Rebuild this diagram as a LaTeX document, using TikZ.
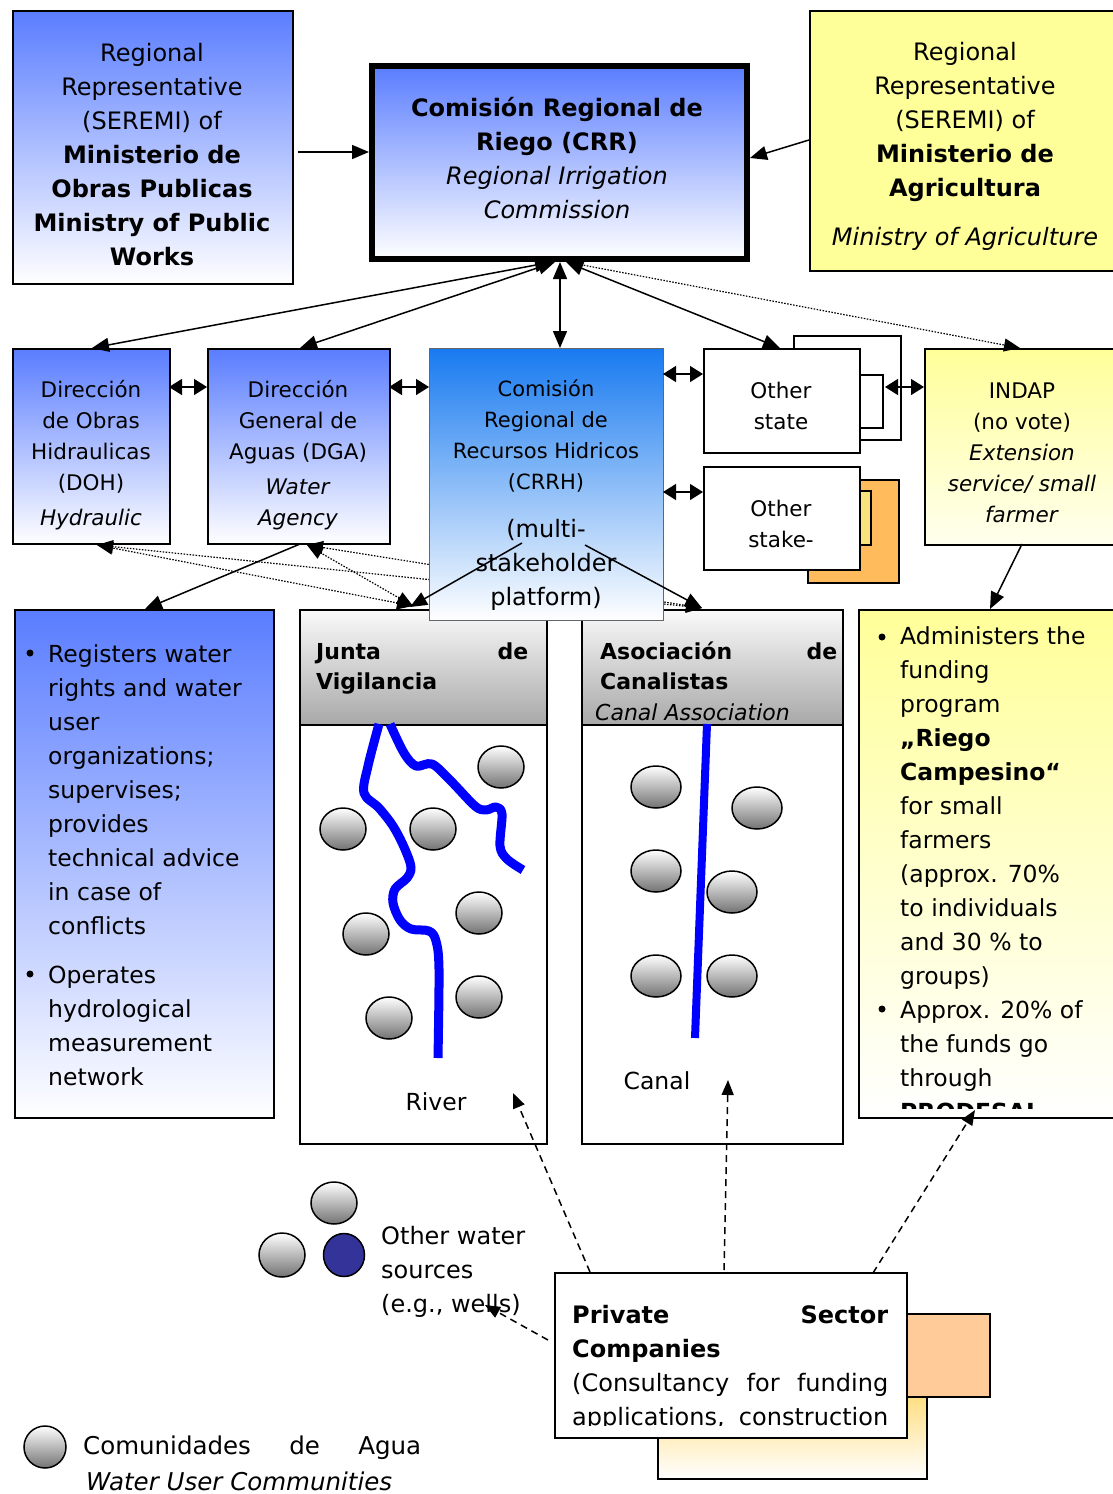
\documentclass[tikz,border=0pt]{standalone}
\usepackage{fontspec}
\setmainfont{DejaVu Sans}
\usetikzlibrary{arrows.meta,shapes.geometric}
\definecolor{bluetop}{RGB}{90,125,255}
\definecolor{crrhtop}{RGB}{24,122,240}
\definecolor{yel}{RGB}{255,255,153}
\definecolor{yelbot}{RGB}{255,255,238}
\definecolor{headtop}{RGB}{250,250,250}
\definecolor{headbot}{RGB}{168,168,168}
\definecolor{orng}{RGB}{255,187,92}
\definecolor{ylwsmall}{RGB}{248,228,122}
\definecolor{peach}{RGB}{255,204,153}
\definecolor{gradtop}{RGB}{255,222,130}
\definecolor{navyc}{RGB}{51,51,153}
\definecolor{riverc}{RGB}{0,0,255}
\begin{document}
\begin{tikzpicture}[x=1pt,y=-1pt,
  bx/.style={rectangle, draw=black, line width=1.6pt, inner sep=0pt, anchor=north west},
  tx/.style={inner sep=0pt, align=center, font=\fontsize{24}{34}\selectfont},
  sx/.style={inner sep=0pt, align=center, font=\fontsize{21.5}{31}\selectfont},
  lx/.style={inner sep=0pt, align=left, font=\fontsize{23.5}{34}\selectfont},
  hx/.style={inner sep=0pt, align=left, font=\fontsize{22}{30}\selectfont},
  bul/.style={circle, fill=black, inner sep=0pt, minimum size=7pt},
  comm/.style={ellipse, draw=black, line width=1.5pt, top color=white, bottom color=black!55, inner sep=0pt, minimum width=46pt, minimum height=42pt},
  arr/.style={-{Triangle[length=17pt,width=14pt]}, line width=1.5pt},
  darr/.style={{Triangle[length=17pt,width=14pt]}-{Triangle[length=17pt,width=14pt]}, line width=1.5pt},
  sdarr/.style={{Triangle[length=13pt,width=16pt]}-{Triangle[length=13pt,width=16pt]}, line width=1.5pt},
  dotarr/.style={{Triangle[length=16pt,width=13pt]}-{Triangle[length=16pt,width=13pt]}, line width=1.2pt, dash pattern=on 1.5pt off 1.5pt},
  dotone/.style={-{Triangle[length=16pt,width=13pt]}, line width=1.2pt, dash pattern=on 1.5pt off 1.5pt},
  dasharr/.style={-{Triangle[length=15pt,width=12pt]}, line width=1.5pt, dash pattern=on 7pt off 5pt},
  rivr/.style={draw=riverc, line width=9pt, line join=round}
]
\useasboundingbox (0,0) rectangle (1112,1494);

% ---------- top row ----------
\node[bx, top color=bluetop, bottom color=white, minimum width=280pt, minimum height=273pt] (mop) at (12,10) {};
\node[tx] (mopt) at (152,155) {Regional\\Representative\\(SEREMI) of\\\textbf{Ministerio de}\\\textbf{Obras Publicas}\\\textbf{Ministry of Public}\\\textbf{Works}};

\node[bx, line width=6pt, top color=bluetop, bottom color=white, minimum width=375pt, minimum height=193pt] (crr) at (369,63) {};
\node[tx] (crrt) at (557,158) {\textbf{Comisión Regional de}\\\textbf{Riego (CRR)}\\\textit{Regional Irrigation}\\\textit{Commission}};

\node[bx, fill=yel, minimum width=310pt, minimum height=260pt] (minag) at (809,10) {};
\node[tx] (minagt) at (965,122) {Regional\\Representative\\(SEREMI) of\\\textbf{Ministerio de}\\\textbf{Agricultura}};
\node[tx] (minagi) at (965,239) {\textit{Ministry of Agriculture}};

% ---------- second row ----------
\node[bx, top color=bluetop, bottom color=white, minimum width=157pt, minimum height=195pt] (doh) at (12,348) {};
\node[sx] (doht) at (91,455) {Dirección\\de Obras\\Hidraulicas\\(DOH)\\[4pt]\textit{Hydraulic}};

\node[bx, top color=bluetop, bottom color=white, minimum width=182pt, minimum height=195pt] (dga) at (207,348) {};
\node[sx] (dgat) at (298,455) {Dirección\\General de\\Aguas (DGA)\\[4pt]\textit{Water}\\\textit{Agency}};

\node[bx, fill=white, minimum width=107pt, minimum height=104pt] (osback) at (793,335) {};
\node[bx, fill=white, minimum width=23pt, minimum height=53pt] (ossmall) at (859,374) {};
\node[bx, fill=white, minimum width=156pt, minimum height=104pt] (ostate) at (703,348) {};
\node[sx] (ostatet) at (781,406) {Other\\state};

\node[bx, fill=orng, minimum width=91pt, minimum height=103pt] (oskorange) at (807,479) {};
\node[bx, fill=ylwsmall, minimum width=11pt, minimum height=54pt] (oskyel) at (859,490) {};
\node[bx, fill=white, minimum width=156pt, minimum height=103pt] (ostake) at (703,466) {};
\node[sx] (ostaket) at (781,524) {Other\\stake-};

\node[bx, top color=yel, bottom color=yelbot, minimum width=192pt, minimum height=196pt] (indap) at (924,348) {};
\node[sx] (indapt) at (1022,453) {INDAP\\(no vote)\\\textit{Extension}\\\textit{service/ small}\\\textit{farmer}};

% ---------- third row ----------
\node[bx, top color=bluetop, bottom color=white, minimum width=259pt, minimum height=508pt] (leftb) at (14,609) {};
\node[bul] (lbb1) at (30,653) {};
\node[lx, anchor=west] (lb1) at (48,790) {Registers water\\rights and water\\user\\organizations;\\supervises;\\provides\\technical advice\\in case of\\conflicts};
\node[bul] (lbb2) at (30,974) {};
\node[lx, anchor=west] (lb2) at (48,1026) {Operates\\hydrological\\measurement\\network};

\node[bx, fill=white, minimum width=247pt, minimum height=534pt] (junta) at (299,609) {};
\node[bx, top color=headtop, bottom color=headbot, minimum width=247pt, minimum height=115pt] (juntah) at (299,609) {};
\node[hx, anchor=west, text width=212pt] (juntat) at (316,669) {\textbf{Junta\hfill de}\\\textbf{Vigilancia}};

\node[bx, fill=white, minimum width=261pt, minimum height=534pt] (canal) at (581,609) {};
\node[bx, top color=headtop, bottom color=headbot, minimum width=261pt, minimum height=115pt] (canalh) at (581,609) {};
\node[hx, anchor=west, text width=237pt] (canalt) at (600,666) {\textbf{Asociación\hfill de}\\\textbf{Canalistas}};
\node[hx, anchor=west] (canali) at (595,712) {\textit{Canal Association}};

\node[bx, top color=yel, bottom color=white, minimum width=258pt, minimum height=508pt] (fund) at (858,609) {};
\begin{scope}
\clip (858,609) rectangle (1112,1108);
\node[bul] (fbb1) at (882,637) {};
\node[lx, anchor=west] (fb1) at (900,808) {Administers the\\funding\\program\\\textbf{„Riego}\\\textbf{Campesino“}\\for small\\farmers\\(approx. 70\%\\to individuals\\and 30 \% to\\groups)};
\node[bul] (fbb2) at (882,1009) {};
\node[lx, anchor=west] (fb2) at (900,1061) {Approx. 20\% of\\the funds go\\through\\\textbf{PRODESAL}};
\end{scope}

% rivers and canal
\draw[rivr] plot[smooth, tension=0.55] coordinates {(379,724) (368,766) (364,793) (379,808) (393,826) (404,847) (411,867) (407,878) (395,889) (393,903) (400,920) (411,929) (429,931) (436,941) (439,969) (438,1058)};
\draw[rivr] plot[smooth, tension=0.55] coordinates {(390,724) (404,753) (416,766) (432,764) (450,780) (475,806) (486,810) (496,807) (502,814) (500,846) (507,859) (523,870)};
\draw[rivr, line width=8pt] (707,724) -- (695,1038);

\node[comm] (j1) at (501,767) {};
\node[comm] (j2) at (343,829) {};
\node[comm] (j3) at (433,829) {};
\node[comm] (j4) at (479,913) {};
\node[comm] (j5) at (366,934) {};
\node[comm] (j6) at (479,997) {};
\node[comm] (j7) at (389,1018) {};
\node[comm, minimum width=50pt] (c1) at (656,787) {};
\node[comm, minimum width=50pt] (c2) at (757,808) {};
\node[comm, minimum width=50pt] (c3) at (656,871) {};
\node[comm, minimum width=50pt] (c4) at (732,892) {};
\node[comm, minimum width=50pt] (c5) at (656,976) {};
\node[comm, minimum width=50pt] (c6) at (732,976) {};

\node[lx] (rivert) at (436,1102) {River};
\node[lx] (canallbl) at (657,1081) {Canal};

% dotted lines passing behind CRRH
\coordinate (jtop) at (413,606);
\coordinate (ctop) at (702,608);
\coordinate (dohb) at (97,545);
\coordinate (dgab) at (307,545);
\draw[dotarr] (jtop) -- (dohb);
\draw[dotarr] (jtop) -- (dgab);
\draw[dotarr] (ctop) -- (dohb);
\draw[dotarr] (ctop) -- (dgab);

% CRRH on top
\node[bx, draw=black!60, line width=0.9pt, top color=crrhtop, bottom color=white, minimum width=234pt, minimum height=272pt] (crrh) at (429,348) {};
\node[sx, font=\fontsize{21}{31}\selectfont] (crrht) at (546,436) {Comisión\\Regional de\\Recursos Hidricos\\(CRRH)};
\node[tx] (crrhb) at (546,565) {(multi-\\stakeholder\\platform)};

\coordinate (ml) at (522,543);
\coordinate (mr) at (585,545);
\draw[arr] (ml) -- (410,607);
\draw[arr] (mr) -- (ctop);

% ---------- connectors top ----------
\coordinate (mopa) at (298,152);
\draw[arr] (mopa) -- (mopa -| crr.west);
\coordinate (minaga) at (809,140);
\draw[arr] (minaga) -- (750,158);

\coordinate (cb1) at (552,262);
\coordinate (cb2) at (555,262);
\coordinate (cb3) at (560,262);
\coordinate (cb4) at (566,262);
\coordinate (cb5) at (572,263);
\draw[darr] (cb1) -- (doh.north -| 92,0);
\draw[darr] (cb2) -- (dga.north -| 300,0);
\draw[darr] (cb3) -- (cb3 |- crrh.north);
\draw[darr] (cb4) -- (ostate.north -| 780,0);
\draw[dotone] (cb5) -- (indap.north -| 1020,0);

\draw[sdarr] (169,387) -- (207,387);
\draw[sdarr] (389,387) -- (429,387);
\draw[sdarr] (663,374) -- (703,374);
\draw[sdarr] (663,492) -- (703,492);
\draw[sdarr] (885,387) -- (924,387);

\draw[arr] (1022,544) -- (990,609);
\draw[arr] (300,544) -- (145,609);

% ---------- other water sources ----------
\node[comm] (w1) at (334,1203) {};
\node[comm, minimum height=44pt] (w2) at (282,1255) {};
\node[ellipse, draw=black, line width=1.5pt, fill=navyc, inner sep=0pt, minimum width=41pt, minimum height=43pt] (w3) at (344,1255) {};
\node[lx, anchor=west, font=\fontsize{24}{34}\selectfont] (wt) at (381,1272) {Other water\\sources\\(e.g., wells)};

% ---------- private sector ----------
\node[bx, top color=gradtop, bottom color=white, minimum width=269pt, minimum height=83pt] (pgrad) at (657,1395) {};
\node[bx, fill=peach, minimum width=109pt, minimum height=83pt] (ppeach) at (880,1313) {};
\node[bx, fill=white, minimum width=352pt, minimum height=165pt] (priv) at (554,1272) {};
\begin{scope}
\clip (554,1272) rectangle (906,1425);
\node[lx, anchor=west, font=\fontsize{24}{34}\selectfont] (privt) at (572,1368) {\makebox[316pt]{\textbf{Private}\hfill\textbf{Sector}}\\\textbf{Companies}\\\makebox[316pt][s]{(Consultancy for funding}\\\makebox[316pt][s]{applications, construction}};
\end{scope}

\draw[dasharr] (590,1272) -- (513,1093);
\draw[dasharr] (724,1270) -- (728,1080);
\draw[dasharr] (873,1273) -- (975,1110);
\draw[dasharr] (548,1340) -- (485,1305);

% ---------- legend ----------
\node[comm, minimum width=42pt, minimum height=42pt] (leg) at (45,1447) {};
\node[lx, anchor=west, font=\fontsize{24.5}{34}\selectfont] (legt) at (83,1448) {\makebox[338pt]{Comunidades\hfill de\hfill Agua}};
\node[lx, anchor=west, font=\fontsize{24.5}{34}\selectfont] (legi) at (86,1481) {\textit{Water User Communities}};
\end{tikzpicture}
\end{document}
